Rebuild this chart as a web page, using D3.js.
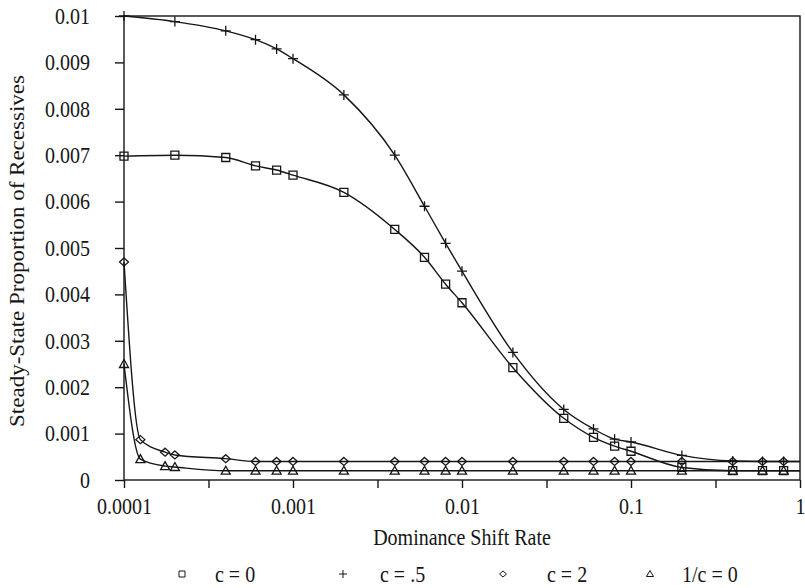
<!DOCTYPE html>
<html>
<head>
<meta charset="utf-8">
<script src="https://cdn.jsdelivr.net/npm/d3@7"></script>
<style>
  body { margin: 0; background: #fff; }
</style>
</head>
<body>
<svg id="chart" width="805" height="588"></svg>
<script>
// dominance shift rates where each series was sampled
const ratesMain = [0.0001, 0.0002, 0.0004, 0.0006, 0.0008, 0.001, 0.002, 0.004, 0.006, 0.008,
                   0.01, 0.02, 0.04, 0.06, 0.08, 0.1, 0.2, 0.4, 0.6, 0.8, 1];
const ratesLow = [0.0001, 0.000125, 0.000175, 0.0002, 0.0004, 0.0006, 0.0008, 0.001, 0.002, 0.004,
                  0.006, 0.008, 0.01, 0.02, 0.04, 0.06, 0.08, 0.1, 0.2, 0.4, 0.6, 0.8, 1];

// steady-state proportion of recessives (last value = line end at rate 1, no marker)
const c0 = [0.00698, 0.0070, 0.00695, 0.00677, 0.00668, 0.00657, 0.0062, 0.0054, 0.0048, 0.00422,
            0.00382, 0.00242, 0.00133, 0.00092, 0.00073, 0.00062, 0.00027, 0.0002, 0.0002, 0.0002, 0.0002];
const cHalf = [0.01, 0.00988, 0.00968, 0.00949, 0.00929, 0.00908, 0.0083, 0.007, 0.0059, 0.0051,
               0.0045, 0.00275, 0.00152, 0.0011, 0.00088, 0.00082, 0.00053, 0.00041, 0.0004, 0.0004, 0.0004];
const c2 = [0.0047, 0.00087, 0.0006, 0.00054, 0.00046, 0.0004, 0.0004, 0.0004, 0.0004, 0.0004,
            0.0004, 0.0004, 0.0004, 0.0004, 0.0004, 0.0004, 0.0004, 0.0004, 0.0004, 0.0004, 0.0004, 0.0004, 0.0004];
const cInf = [0.0025, 0.00045, 0.0003, 0.00028, 0.0002, 0.0002, 0.0002, 0.0002, 0.0002, 0.0002,
              0.0002, 0.0002, 0.0002, 0.0002, 0.0002, 0.0002, 0.0002, 0.0002, 0.0002, 0.0002, 0.0002, 0.0002, 0.0002];

const seriesNames = ["c = 0", "c = .5", "c = 2", "1/c = 0"];
const seriesShapes = ["square", "plus", "diamond", "triangle"];

const xTicks = [0.0001, 0.001, 0.01, 0.1, 1];
const xTickLabels = ["0.0001", "0.001", "0.01", "0.1", "1"];
const yTicks = [0, 0.001, 0.002, 0.003, 0.004, 0.005, 0.006, 0.007, 0.008, 0.009, 0.01];
const yTickLabels = ["0", "0.001", "0.002", "0.003", "0.004", "0.005", "0.006", "0.007", "0.008", "0.009", "0.01"];

const ink = "#161616";
const serif = "'Liberation Serif', 'Times New Roman', serif";
const stretch = 1.15; // the scanned figure is a bit taller than wide
const svg = d3.select("#chart");
const plotL = 124, plotR = 800, plotT = 16, plotB = 480;

const x = d3.scaleLog().domain([0.0001, 1]).range([plotL, plotR]);
const y = d3.scaleLinear().domain([0, 0.01]).range([plotB, plotT]);

// half-decade tick marks along the bottom
const minorTicks = d3.range(-4, 0.01, 0.5).map(e => Math.pow(10, e));

const xAxis = svg.append("g").attr("transform", `translate(0,${plotB})`)
  .call(d3.axisBottom(x).tickValues(minorTicks).tickSize(8).tickPadding(10)
    .tickFormat(d => { const i = xTicks.findIndex(t => Math.abs(Math.log10(t) - Math.log10(d)) < 1e-6); return i >= 0 ? xTickLabels[i] : ""; }));
const yAxis = svg.append("g").attr("transform", `translate(${plotL},0)`)
  .call(d3.axisLeft(y).tickValues(yTicks).tickSize(9).tickPadding(25)
    .tickFormat((d, i) => yTickLabels[i]));

[xAxis, yAxis].forEach(g => {
  g.attr("font-family", serif).attr("font-size", 20);
  g.select(".domain").remove();
  g.selectAll("line").attr("stroke", ink).attr("stroke-width", 1.4);
  g.selectAll("text").attr("fill", ink).each(function() {
    const t = d3.select(this);
    const tx = +t.attr("x") || 0, ty = +t.attr("y") || 0;
    t.attr("x", 0).attr("y", 0).attr("transform", `translate(${tx},${ty}) scale(1,${stretch})`);
  });
});

svg.append("rect").attr("x", plotL).attr("y", plotT)
  .attr("width", plotR - plotL).attr("height", plotB - plotT)
  .attr("fill", "none").attr("stroke", ink).attr("stroke-width", 1.4);

function shapePath(shape, s) {
  const h = s / 2;
  if (shape === "square") return `M${-h},${-h}h${s}v${s}h${-s}Z`;
  if (shape === "plus") return `M${-h - 1},0h${s + 2}M0,${-h - 1}v${s + 2}`;
  if (shape === "diamond") return `M0,${-h}L${h + 0.5},0L0,${h}L${-h - 0.5},0Z`;
  return `M0,${-h - 0.5}L${h + 0.5},${h - 0.5}L${-h - 0.5},${h - 0.5}Z`;
}

const series = [
  { rates: ratesMain, vals: c0 },
  { rates: ratesMain, vals: cHalf },
  { rates: ratesLow, vals: c2 },
  { rates: ratesLow, vals: cInf }
];

const line = d3.line().x(d => x(d[0])).y(d => y(d[1])).curve(d3.curveMonotoneX);

series.forEach((s, si) => {
  const pts = s.rates.map((r, i) => [r, s.vals[i]]);
  svg.append("path").datum(pts).attr("d", line)
    .attr("fill", "none").attr("stroke", ink).attr("stroke-width", 1.4);
  svg.append("g").selectAll("path").data(pts.filter(d => d[0] < 1)).join("path")
    .attr("transform", d => `translate(${x(d[0])},${y(d[1])})`)
    .attr("d", shapePath(seriesShapes[si], 8))
    .attr("fill", "none").attr("stroke", ink).attr("stroke-width", 1.3);
});

function label(tx, ty, str, anchor, rot) {
  return svg.append("text")
    .attr("transform", `translate(${tx},${ty}) scale(1,${stretch})` + (rot ? ` rotate(${rot})` : ""))
    .attr("text-anchor", anchor).attr("font-family", serif).attr("font-size", 20)
    .attr("fill", ink).text(str);
}

// axis titles
label(462, 545, "Dominance Shift Rate", "middle");
label(24, 251, "Steady-State Proportion of Recessives", "middle", -90);

// legend
const legendMarkX = [182, 343, 503, 650];
const legendTextX = [215, 380, 547, 682];
seriesNames.forEach((name, i) => {
  svg.append("path").attr("transform", `translate(${legendMarkX[i]},574)`)
    .attr("d", shapePath(seriesShapes[i], 6))
    .attr("fill", "none").attr("stroke", ink).attr("stroke-width", 1);
  label(legendTextX[i], 582, name, "start");
});
</script>
</body>
</html>
